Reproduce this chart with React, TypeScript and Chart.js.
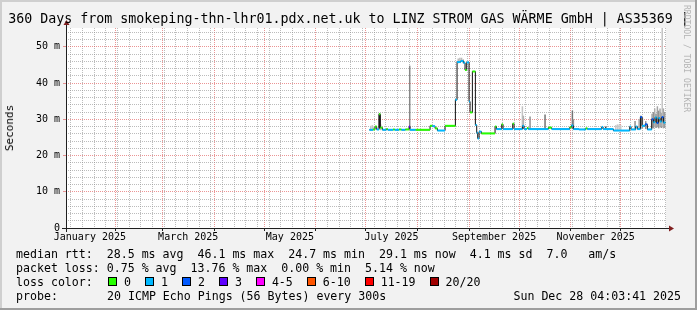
import React, { useEffect, useRef } from 'react';
import { Chart, registerables } from 'chart.js';

Chart.register(...registerables);

// ---------- text ----------
const TITLE = '360 Days from smokeping-thn-lhr01.pdx.net.uk to LINZ STROM GAS WÄRME GmbH | AS35369 |';
const Y_LABEL = 'Seconds';
const WATERMARK = 'RRDTOOL / TOBI OETIKER';
const LEGEND_RTT = 'median rtt:  28.5 ms avg  46.1 ms max  24.7 ms min  29.1 ms now  4.1 ms sd  7.0   am/s';
const LEGEND_LOSS = 'packet loss: 0.75 % avg  13.76 % max  0.00 % min  5.14 % now';
const LEGEND_COLOR_HEAD = 'loss color:';
const PROBE_HEAD = 'probe:';
const PROBE_TEXT = '20 ICMP Echo Pings (56 Bytes) every 300s';
const STAMP = 'Sun Dec 28 04:03:41 2025';

// ---------- time axis (days since 2025-01-01 00:00) ----------
const X_MIN = 1.17; // Jan 2 2025 04:03
const X_MAX = 361.17; // Dec 28 2025 04:03
const MONTH_START_DAYS = [31, 59, 90, 120, 151, 181, 212, 243, 273, 304, 334];
const FIRST_SUNDAY = 4;
const MONTH_LABEL_DAYS = [15.5, 74.5, 135.5, 196.5, 258, 319];
const MONTH_LABELS = ['January 2025', 'March 2025', 'May 2025', 'July 2025', 'September 2025', 'November 2025'];

// ---------- value axis (milliseconds) ----------
const Y_MAX = 55.2;
const Y_MINOR_STEP = 2;
const Y_MAJOR_STEP = 10;

// ---------- loss colours ----------
const LOSS_LABELS = ['0', '1', '2', '3', '4-5', '6-10', '11-19', '20/20'];
const LOSS_COLORS = ['#26ff00', '#00b8ff', '#0059ff', '#5e00ff', '#ff00ff', '#ff5500', '#ff0000', '#a00000'];

// ---------- median rtt steps (start day, ms, loss class) ----------
const MEDIAN_DAYS = [
  183.2, 185.4, 186.6, 187.6, 189.0, 189.8, 191.0, 193.4, 194.2, 197.4,
  198.4, 201.0, 202.4, 204.8, 207.0, 207.6, 211.0, 219.6, 221.0, 222.6,
  224.0, 228.6, 234.8, 235.8, 238.0, 239.6, 240.6, 241.6, 243.0, 243.6,
  245.0, 246.8, 247.6, 248.2, 249.0, 250.4, 258.6, 259.4, 262.6, 263.4,
  269.2, 270.0, 275.0, 276.0, 277.8, 278.6, 290.6, 292.6, 303.4, 304.4,
  305.6, 309.0, 313.0, 314.0, 322.6, 323.4, 329.6, 339.4, 340.2, 343.0,
  344.0, 345.8, 346.8, 348.6, 350.0, 352.6, 353.6, 354.6, 355.6, 356.6,
  357.6, 358.6, 359.6,
];
const MEDIAN_END = 360.8;
const MEDIAN_MS = [
  27.1, 27.2, 28.0, 27.2, 31.4, 27.7, 27.1, 27.3, 27.1, 27.2,
  27.1, 27.2, 27.1, 27.2, 28.0, 27.1, 27.1, 28.2, 28.1, 27.5,
  26.9, 28.2, 35.4, 45.8, 46.1, 45.6, 43.6, 45.7, 34.9, 31.9,
  43.2, 28.4, 26.3, 24.7, 26.6, 26.1, 28.0, 27.3, 28.6, 27.3,
  28.8, 27.3, 28.2, 27.3, 27.6, 27.3, 27.7, 27.3, 27.8, 28.3,
  27.3, 27.2, 27.5, 27.3, 27.9, 27.3, 26.9, 28.0, 27.2, 28.0,
  27.3, 30.6, 28.2, 28.6, 27.2, 30.0, 29.2, 30.5, 29.0, 30.3,
  29.4, 30.6, 29.1,
];
const MEDIAN_LOSS = [
  1, 0, 0, 1, 0, 0, 1, 0, 1, 0,
  1, 0, 1, 0, 3, 1, 0, 0, 1, 0,
  1, 0, 1, 1, 1, 1, 0, 1, 1, 0,
  0, 1, 1, 1, 1, 0, 0, 1, 0, 1,
  0, 1, 1, 1, 0, 1, 0, 1, 0, 1,
  1, 1, 0, 1, 1, 1, 1, 1, 1, 1,
  1, 2, 1, 2, 1, 2, 1, 1, 2, 1,
  1, 2, 1,
];

// ---------- smoke (ping spread) ----------
const SMOKE_DAYS = [
  184, 185, 186, 189.2, 190, 207.4, 236.5, 237.5, 238.5, 239.5,
  275.0, 275.6, 279.6, 288.6, 305.0, 305.6, 325.0, 331, 332, 333,
  334, 342.6, 345.0, 346.0, 347.0, 349.0, 352.8, 353.6, 354.4, 355.2,
  356.0, 356.8, 357.6, 358.4, 358.9, 359.6, 360.4,
];
const SMOKE_LO = [
  27.0, 27.0, 27.0, 27.5, 27.0, 27.5, 45.5, 45.6, 45.8, 45.5,
  27.3, 27.3, 27.3, 27.3, 27.3, 27.3, 27.2, 27.0, 27.0, 27.0,
  27.0, 27.3, 27.3, 27.3, 27.5, 27.3, 27.5, 27.5, 27.8, 27.6,
  27.8, 27.5, 27.8, 27.6, 28.0, 27.5, 27.6,
];
const SMOKE_HI = [
  28.2, 28.4, 28.0, 31.6, 28.6, 44.8, 46.8, 47.0, 47.0, 46.6,
  33.6, 31.0, 30.8, 31.3, 32.4, 30.0, 28.0, 28.4, 28.6, 28.6,
  28.4, 29.5, 30.0, 31.0, 30.5, 29.5, 31.5, 32.0, 33.0, 31.5,
  33.6, 32.4, 33.0, 31.8, 60.0, 33.0, 32.0,
];
const SMOKE_DENSITY = [
  0.15, 0.15, 0.15, 0.9, 0.2, 0.45, 0.2, 0.2, 0.2, 0.2,
  0.15, 0.25, 0.4, 0.55, 0.55, 0.4, 0.8, 0.12, 0.12, 0.12,
  0.12, 0.4, 0.25, 0.5, 0.4, 0.4, 0.3, 0.4, 0.25, 0.4,
  0.3, 0.4, 0.3, 0.4, 0.15, 0.3, 0.35,
];

// ---------- styles ----------
const FONT = "'DejaVu Sans Mono', monospace";
const GRID_COLOR = 'rgba(143,143,143,0.6)';
const MGRID_COLOR = 'rgba(222,79,79,0.6)';
const AXIS_COLOR = '#1f1f1f';
const ARROW_COLOR = '#802020';

const shade = (d: number) => {
  const g = Math.round(225 - 200 * d);
  return `rgb(${g},${g},${g})`;
};

function buildXTicks() {
  const ticks: any[] = [];
  for (let d = FIRST_SUNDAY; d <= X_MAX; d += 7) {
    if (d >= X_MIN && !MONTH_START_DAYS.includes(d)) ticks.push({ value: d, kind: 'minor' });
  }
  MONTH_START_DAYS.forEach((d) => ticks.push({ value: d, kind: 'major' }));
  MONTH_LABEL_DAYS.forEach((d, i) => ticks.push({ value: d, kind: 'label', text: MONTH_LABELS[i] }));
  return ticks.sort((a, b) => a.value - b.value);
}

function buildYTicks() {
  const ticks: any[] = [];
  for (let v = 0; v <= Y_MAX; v += Y_MINOR_STEP) {
    ticks.push({ value: v, kind: v % Y_MAJOR_STEP === 0 ? 'major' : 'minor' });
  }
  return ticks;
}

const plotBackground = {
  id: 'plotBackground',
  beforeDraw(chart: any) {
    const { ctx, chartArea: a } = chart;
    ctx.save();
    ctx.fillStyle = '#ffffff';
    ctx.fillRect(a.left, a.top, a.right - a.left, a.bottom - a.top);
    ctx.restore();
  },
};

const rrdAxes = {
  id: 'rrdAxes',
  afterDraw(chart: any) {
    const { ctx, chartArea: a } = chart;
    const x0 = a.left + 0.5;
    const y0 = a.bottom + 0.5;
    ctx.save();
    ctx.strokeStyle = AXIS_COLOR;
    ctx.lineWidth = 1;
    ctx.beginPath();
    ctx.moveTo(a.left - 4, y0);
    ctx.lineTo(a.right + 4, y0);
    ctx.moveTo(x0, a.bottom + 4);
    ctx.lineTo(x0, a.top - 4);
    ctx.stroke();
    ctx.fillStyle = ARROW_COLOR;
    ctx.beginPath();
    ctx.moveTo(a.right + 3, y0 - 3);
    ctx.lineTo(a.right + 8, y0);
    ctx.lineTo(a.right + 3, y0 + 3);
    ctx.closePath();
    ctx.fill();
    ctx.beginPath();
    ctx.moveTo(x0 - 3, a.top - 3);
    ctx.lineTo(x0, a.top - 8);
    ctx.lineTo(x0 + 3, a.top - 3);
    ctx.closePath();
    ctx.fill();
    ctx.restore();
  },
};

export default function App() {
  const ref = useRef<HTMLCanvasElement>(null);

  useEffect(() => {
    const canvas = ref.current;
    if (!canvas) return;

    const stepData = MEDIAN_DAYS.map((d, i) => ({ x: d, y: MEDIAN_MS[i] }));
    stepData.push({ x: MEDIAN_END, y: MEDIAN_MS[MEDIAN_MS.length - 1] });

    const colorData: any[] = [];
    const colorLoss: number[] = [];
    MEDIAN_DAYS.forEach((d, i) => {
      const end = i < MEDIAN_DAYS.length - 1 ? MEDIAN_DAYS[i + 1] : MEDIAN_END;
      colorData.push({ x: d, y: MEDIAN_MS[i] }, { x: end, y: MEDIAN_MS[i] }, { x: end, y: null });
      colorLoss.push(MEDIAN_LOSS[i], MEDIAN_LOSS[i], MEDIAN_LOSS[i]);
    });

    const smokeData = SMOKE_DAYS.map((d, i) => ({ x: d, y: [SMOKE_LO[i], SMOKE_HI[i]] }));
    const smokeColors = SMOKE_DENSITY.map(shade);

    const chart = new Chart(canvas, {
      type: 'line',
      data: {
        datasets: [
          {
            type: 'bar',
            data: smokeData as any,
            backgroundColor: smokeColors,
            borderWidth: 0,
            barThickness: 1.5,
            inflateAmount: 0,
            grouped: false,
            order: 3,
          } as any,
          {
            type: 'line',
            data: stepData,
            borderColor: '#111111',
            borderWidth: 1,
            stepped: 'before',
            pointRadius: 0,
            fill: false,
            order: 2,
          },
          {
            type: 'line',
            data: colorData,
            borderWidth: 2,
            borderColor: LOSS_COLORS[1],
            pointRadius: 0,
            spanGaps: false,
            fill: false,
            borderCapStyle: 'butt',
            segment: {
              borderColor: (ctx: any) => LOSS_COLORS[colorLoss[ctx.p0DataIndex]],
            },
            order: 1,
          },
        ],
      },
      options: {
        animation: false,
        responsive: false,
        maintainAspectRatio: false,
        devicePixelRatio: 1,
        events: [],
        layout: { padding: { left: 0, right: 31, top: 28, bottom: 62 } },
        plugins: {
          legend: { display: false },
          tooltip: { enabled: false },
          title: { display: false },
        },
        scales: {
          x: {
            type: 'linear',
            min: X_MIN,
            max: X_MAX,
            bounds: 'data',
            offset: false,
            afterBuildTicks: (scale: any) => {
              scale.ticks = buildXTicks();
            },
            afterFit: (scale: any) => {
              scale.height = 20;
            },
            border: { display: false, dash: [1, 1] },
            grid: {
              offset: false,
              lineWidth: 1,
              drawTicks: true,
              tickLength: 3,
              tickBorderDash: [],
              color: (c: any) =>
                c.tick && c.tick.kind === 'major' ? MGRID_COLOR : c.tick && c.tick.kind === 'minor' ? GRID_COLOR : 'rgba(0,0,0,0)',
              tickColor: (c: any) => (c.tick && c.tick.kind === 'major' ? AXIS_COLOR : 'rgba(0,0,0,0)'),
            },
            ticks: {
              autoSkip: false,
              maxRotation: 0,
              minRotation: 0,
              padding: 0.5,
              color: '#000',
              font: { family: FONT, size: 10 },
              callback: (_v: any, i: number, ticks: any[]) => (ticks[i] && ticks[i].text) || '',
            },
          },
          y: {
            type: 'linear',
            min: 0,
            max: Y_MAX,
            bounds: 'data',
            afterBuildTicks: (scale: any) => {
              scale.ticks = buildYTicks();
            },
            afterFit: (scale: any) => {
              scale.width = 66;
            },
            border: { display: false, dash: [1, 1] },
            grid: {
              lineWidth: 1,
              drawTicks: true,
              tickLength: 3,
              tickBorderDash: [],
              color: (c: any) => (c.tick && c.tick.kind === 'major' ? MGRID_COLOR : GRID_COLOR),
              tickColor: (c: any) => (c.tick && c.tick.kind === 'major' ? MGRID_COLOR : 'rgba(0,0,0,0)'),
            },
            ticks: {
              autoSkip: false,
              padding: 3,
              color: '#000',
              font: { family: FONT, size: 10 },
              callback: (v: any) => {
                const n = Number(v);
                if (n % Y_MAJOR_STEP !== 0) return '';
                return n === 0 ? '0' : `${n} m`;
              },
            },
          },
        },
      } as any,
      plugins: [plotBackground, rrdAxes],
    });

    return () => chart.destroy();
  }, []);

  const legendFont: React.CSSProperties = {
    position: 'absolute',
    fontFamily: FONT,
    fontSize: '11.6px',
    lineHeight: '14px',
    whiteSpace: 'pre',
    color: '#000',
  };

  let cx = 108;
  const swatches = LOSS_LABELS.map((lab, i) => {
    const left = cx;
    cx = left + 16 + lab.length * 6.97 + 14;
    return (
      <React.Fragment key={lab}>
        <div
          style={{
            position: 'absolute',
            left,
            top: 277,
            width: 9,
            height: 9,
            boxSizing: 'border-box',
            border: '1px solid #000',
            background: LOSS_COLORS[i],
          }}
        />
        <div style={{ ...legendFont, left: left + 16, top: 275 }}>{lab}</div>
      </React.Fragment>
    );
  });

  return (
    <div
      style={{
        position: 'absolute',
        left: 0,
        top: 0,
        width: 697,
        height: 310,
        background: '#F2F2F2',
        overflow: 'hidden',
      }}
    >
      <div style={{ position: 'absolute', left: 0, top: 0, width: 697, height: 2, background: '#CFCFCF' }} />
      <div style={{ position: 'absolute', left: 0, top: 0, width: 2, height: 310, background: '#CFCFCF' }} />
      <div style={{ position: 'absolute', left: 695, top: 0, width: 2, height: 310, background: '#9E9E9E' }} />
      <div style={{ position: 'absolute', left: 0, top: 308, width: 697, height: 2, background: '#9E9E9E' }} />
      <canvas
        ref={ref}
        width={697}
        height={310}
        style={{ position: 'absolute', left: 0, top: 0, width: 697, height: 310 }}
      />
      <div
        style={{
          position: 'absolute',
          left: 0,
          top: 11,
          width: 697,
          textAlign: 'center',
          fontFamily: FONT,
          fontSize: '13.3px',
          lineHeight: '16px',
          whiteSpace: 'pre',
          color: '#000',
        }}
      >
        {TITLE}
      </div>
      <div
        style={{
          position: 'absolute',
          left: 10,
          top: 128,
          transform: 'translate(-50%, -50%) rotate(-90deg)',
          fontFamily: FONT,
          fontSize: '11px',
          lineHeight: '12px',
          whiteSpace: 'nowrap',
          color: '#000',
        }}
      >
        {Y_LABEL}
      </div>
      <div
        style={{
          position: 'absolute',
          left: 691,
          top: 5,
          transformOrigin: '0 0',
          transform: 'rotate(90deg)',
          fontFamily: FONT,
          fontSize: '8.1px',
          lineHeight: '9px',
          whiteSpace: 'nowrap',
          color: '#b4b4b4',
        }}
      >
        {WATERMARK}
      </div>
      <div style={{ ...legendFont, left: 16, top: 247 }}>{LEGEND_RTT}</div>
      <div style={{ ...legendFont, left: 16, top: 261 }}>{LEGEND_LOSS}</div>
      <div style={{ ...legendFont, left: 16, top: 275 }}>{LEGEND_COLOR_HEAD}</div>
      {swatches}
      <div style={{ ...legendFont, left: 16, top: 289 }}>{PROBE_HEAD}</div>
      <div style={{ ...legendFont, left: 107, top: 289 }}>{PROBE_TEXT}</div>
      <div style={{ ...legendFont, right: 16, top: 289 }}>{STAMP}</div>
    </div>
  );
}
